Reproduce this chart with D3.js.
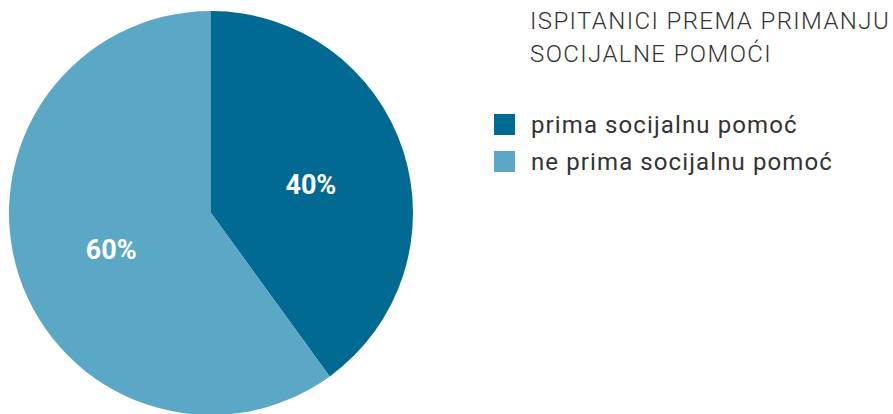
<!DOCTYPE html>
<html>
<head>
<meta charset="utf-8">
<script src="https://cdn.jsdelivr.net/npm/d3@7"></script>
<style>
  body { margin: 0; background: #fff; }
  svg { display: block; }
</style>
</head>
<body>
<svg id="chart" width="893" height="414"></svg>
<script>
// ---- DATA ----
const categories = ["prima socijalnu pomoć", "ne prima socijalnu pomoć"];
const values = [40, 60];
const colors = ["#006a92", "#5aa7c6"];
const titleLines = ["ISPITANICI PREMA PRIMANJU", "SOCIJALNE POMOĆI"];

const svg = d3.select("#chart");
const cx = 211, cy = 213, radius = 202;

const pie = d3.pie().sort(null).value(d => d.value);
const arcs = pie(categories.map((c, i) => ({ name: c, value: values[i], color: colors[i] })));

const arc = d3.arc().innerRadius(0).outerRadius(radius);
const labelArc = d3.arc().innerRadius(105).outerRadius(105);

const pieG = svg.append("g").attr("transform", `translate(${cx},${cy})`);

pieG.selectAll("path")
  .data(arcs)
  .join("path")
  .attr("d", arc)
  .attr("fill", d => d.data.color);

// percentage labels
pieG.selectAll("text")
  .data(arcs)
  .join("text")
  .attr("transform", d => `translate(${labelArc.centroid(d)})`)
  .attr("text-anchor", "middle")
  .attr("dy", "0.5em")
  .attr("fill", "#fff")
  .attr("font-family", "Roboto, sans-serif")
  .attr("font-weight", 700)
  .attr("font-size", 27)
  .text(d => d.data.value + "%");

// title
svg.append("g")
  .selectAll("text")
  .data(titleLines)
  .join("text")
  .attr("x", 530)
  .attr("y", (d, i) => 29 + i * 33)
  .attr("fill", "#333")
  .attr("font-family", "Roboto, sans-serif")
  .attr("font-weight", 300)
  .attr("font-size", 24)
  .attr("letter-spacing", 1.4)
  .text(d => d);

// legend
const legend = svg.append("g").attr("transform", "translate(494,114)");
const items = legend.selectAll("g")
  .data(arcs)
  .join("g")
  .attr("transform", (d, i) => `translate(0,${i * 37})`);

items.append("rect")
  .attr("width", 21)
  .attr("height", 21)
  .attr("fill", d => d.data.color);

items.append("text")
  .attr("x", 37)
  .attr("y", 19)
  .attr("fill", "#333")
  .attr("font-family", "Roboto, sans-serif")
  .attr("font-size", 24)
  .attr("letter-spacing", 1.1)
  .text(d => d.data.name);
</script>
</body>
</html>
